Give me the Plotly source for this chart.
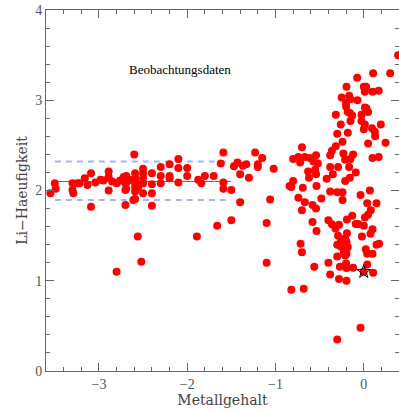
import plotly.graph_objects as go

# Metal-poor (halo) stars: [Fe/H] and Li abundance
halo_feh = [-3.55, -3.50, -3.49, -3.30, -3.30, -3.29, -3.245, -3.22, -3.16, -3.13,
            -3.09, -3.09, -3.04, -2.98, -2.95, -2.89, -2.89, -2.89, -2.85, -2.80,
            -2.76, -2.72, -2.70, -2.70, -2.70, -2.65, -2.60, -2.61, -2.80, -2.56,
            -2.52, -2.40, -2.69, -2.68, -2.69, -2.59, -2.59, -2.59, -2.59, -2.59,
            -2.59, -2.555, -2.555, -2.50, -2.50, -2.50, -2.50, -2.50, -2.40, -2.40,
            -2.40, -2.30, -2.30, -2.30, -2.20, -2.20, -2.20, -2.10, -2.10, -2.10,
            -2.00, -2.00, -1.875, -1.84, -1.80, -1.70, -1.89, -1.66, -1.50, -1.40,
            -1.10, -1.10, -1.06, -1.02, -1.59, -1.62, -1.59, -1.59, -1.50, -1.47,
            -1.43, -1.37, -1.33, -1.40, -1.30, -1.23, -1.20, -1.20, -1.15]
halo_li = [1.97, 2.08, 2.02, 2.08, 2.005, 1.97, 2.08, 2.08, 2.135, 2.06,
           2.19, 1.82, 2.09, 2.12, 2.11, 2.21, 2.15, 2.00, 2.10, 2.08,
           2.11, 2.15, 2.08, 2.005, 1.84, 2.12, 2.40, 1.895, 1.10, 1.49,
           1.21, 1.83, 2.16, 2.10, 2.02, 2.19, 2.135, 2.09, 2.04, 1.99,
           1.905, 2.07, 2.04, 2.24, 2.19, 2.135, 2.08, 1.97, 2.19, 2.07,
           1.97, 2.26, 2.16, 2.08, 2.29, 2.16, 2.135, 2.35, 2.25, 2.09,
           2.25, 2.16, 2.12, 2.08, 2.16, 2.16, 1.49, 1.61, 1.67, 1.87,
           1.64, 1.20, 1.90, 2.24, 2.42, 2.30, 2.09, 2.02, 2.005, 2.27,
           2.31, 2.275, 2.29, 2.18, 2.14, 2.42, 2.29, 2.26, 2.36]

# Disk stars: [Fe/H] and Li abundance
disk_feh = [-0.84, -0.80, -0.80, -0.82, -0.074, 0.107, 0.30, 0.39, -0.195, 0.001,
            0.027, 0.013, 0.10, 0.17, -0.25, -0.165, -0.15, -0.20, -0.20, -0.07,
            -0.18, -0.157, 0.013, 0.05, -0.316, -0.13, -0.15, -0.025, -0.025, 0.013,
            0.001, 0.194, -0.26, -0.30, -0.18, 0.095, 0.126, 0.13, -0.24, 0.05,
            0.247, -0.70, -0.74, -0.667, -0.72, -0.61, -0.57, -0.54, -0.52, -0.36,
            -0.38, -0.316, -0.23, -0.21, -0.15, -0.12, -0.38, -0.29, -0.165, 0.10,
            0.17, -0.69, -0.63, -0.62, -0.55, -0.54, -0.535, -0.42, -0.35, -0.21,
            -0.157, -0.09, -0.38, -0.30, -0.24, -0.24, 0.07, -0.036, 0.04, 0.145,
            -0.74, -0.667, -0.58, -0.54, -0.70, -0.48, 0.08, 0.05, 0.013, -0.13,
            -0.19, -0.074, 0.001, -0.40, -0.36, -0.32, -0.28, -0.58, -0.535, 0.10,
            0.077, -0.02, 0.175, -0.19, -0.21, -0.29, -0.30, -0.26, -0.195, -0.18,
            -0.225, -0.195, -0.715, -0.70, 0.024, 0.04, 0.10, 0.145, -0.40, -0.56,
            -0.27, -0.195, -0.12, -0.20, 0.04, 0.107, -0.38, -0.28, -0.195, -0.82,
            -0.68, -0.036, -0.30, 0.03, -0.09, -0.06, -0.30, -0.21, -0.26, 0.00]
disk_li = [2.05, 2.35, 2.105, 2.04, 3.25, 3.30, 3.30, 3.50, 3.15, 3.15,
           3.15, 3.095, 3.095, 3.105, 3.03, 3.05, 3.01, 2.97, 2.93, 3.00,
           2.87, 2.86, 2.92, 2.87, 2.84, 2.83, 2.77, 2.84, 2.77, 2.73,
           2.68, 2.73, 2.73, 2.63, 2.64, 2.69, 2.65, 2.60, 2.54, 2.52,
           2.53, 2.48, 2.37, 2.37, 2.31, 2.36, 2.32, 2.39, 2.30, 2.44,
           2.39, 2.49, 2.41, 2.34, 2.35, 2.40, 2.26, 2.26, 2.26, 2.36,
           2.37, 2.03, 2.21, 2.14, 2.23, 2.18, 2.05, 2.13, 2.18, 2.105,
           2.14, 2.20, 1.99, 1.98, 1.98, 1.895, 2.00, 1.95, 1.86, 1.86,
           1.92, 1.87, 1.84, 1.80, 1.78, 1.91, 1.78, 1.73, 1.70, 1.72,
           1.68, 1.63, 1.61, 1.67, 1.625, 1.58, 1.62, 1.65, 1.55, 1.57,
           1.52, 1.49, 1.41, 1.525, 1.47, 1.50, 1.40, 1.38, 1.43, 1.37,
           1.32, 1.30, 1.41, 1.315, 1.35, 1.30, 1.30, 1.40, 1.20, 1.155,
           1.155, 1.14, 1.145, 1.19, 1.18, 1.09, 1.07, 1.02, 1.00, 0.90,
           0.91, 0.48, 0.35, 2.91, 1.63, 1.63, 1.27, 1.28, 1.43, 1.10]

# Sun
sun_feh = [0.0]
sun_li = [1.10]

# Spite plateau: mean level and scatter band
plateau_feh = [-3.5, -1.5]
plateau_mean = 2.10
plateau_band = [1.895, 2.32]

serif = "Liberation Serif"
title_font = "DejaVu Serif"
axis_grey = "#666666"

fig = go.Figure()

for lvl in plateau_band:
    fig.add_trace(go.Scatter(
        x=plateau_feh, y=[lvl, lvl], mode="lines",
        line=dict(color="#aab0ff", width=2, dash="6px,5px"),
        hoverinfo="skip", showlegend=False))

fig.add_trace(go.Scatter(
    x=plateau_feh, y=[plateau_mean, plateau_mean], mode="lines",
    line=dict(color="#5a5aee", width=1),
    hoverinfo="skip", showlegend=False))

marker_style = dict(color="#ff0000", size=8, line=dict(width=0))
fig.add_trace(go.Scatter(x=halo_feh, y=halo_li, mode="markers",
                         marker=marker_style, showlegend=False))
fig.add_trace(go.Scatter(x=disk_feh, y=disk_li, mode="markers",
                         marker=marker_style, showlegend=False))
fig.add_trace(go.Scatter(x=sun_feh, y=sun_li, mode="markers",
                         marker=dict(symbol="star-open", color="black", size=10,
                                     line=dict(width=1, color="black")),
                         showlegend=False))

fig.add_annotation(x=-2.08, y=3.34, text="Beobachtungsdaten", showarrow=False,
                   font=dict(family=serif, size=13, color="black"))

common = dict(
    showgrid=False, zeroline=False, showline=True, linecolor=axis_grey,
    linewidth=1, mirror="allticks", ticks="inside", ticklen=8, tickwidth=1,
    tickcolor=axis_grey, tickfont=dict(family=serif, size=14, color="#555555"),
    minor=dict(ticks="inside", ticklen=4, tickcolor=axis_grey, tickwidth=1),
)

fig.update_xaxes(range=[-3.6, 0.4], tick0=0, dtick=1,
                 title=dict(text="Metallgehalt", standoff=2,
                            font=dict(family=title_font, size=14, color="#444444")),
                 **common)
fig.update_xaxes(minor_dtick=0.2)
fig.update_yaxes(range=[0, 4], tick0=0, dtick=1,
                 title=dict(text="Li−Haeufigkeit", standoff=4,
                            font=dict(family=title_font, size=14, color="#444444")),
                 **common)
fig.update_yaxes(minor_dtick=0.2)

fig.update_layout(
    width=399, height=411,
    margin=dict(l=46, r=0, t=10, b=40),
    plot_bgcolor="white", paper_bgcolor="white",
)

fig.write_html("out.html")
